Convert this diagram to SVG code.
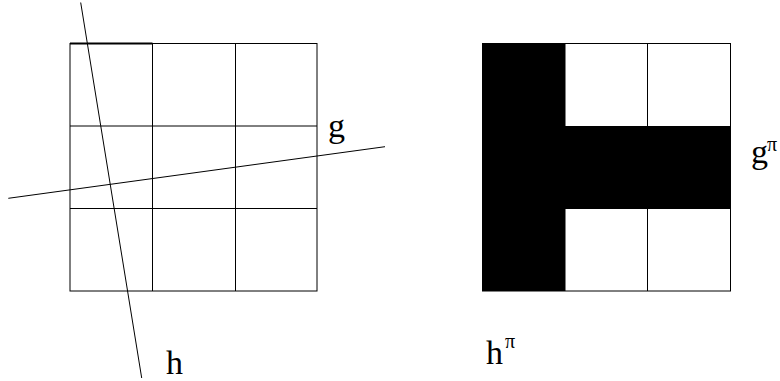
<svg xmlns="http://www.w3.org/2000/svg" width="780" height="381" viewBox="0 0 780 381">
<style>
.ln{stroke:#000;stroke-width:1;fill:none}
.lbl{font-family:"Liberation Serif","Times New Roman",serif;font-size:34px;fill:#000}
.sup{font-family:"Liberation Serif","Times New Roman",serif;font-size:20px;fill:#000}
</style>
<rect width="780" height="381" fill="#fff"/>
<g id="left-grid">
<rect class="ln" x="70" y="43.5" width="247" height="247.5"/>
<line class="ln" x1="152.5" y1="43.5" x2="152.5" y2="291"/>
<line class="ln" x1="235.5" y1="43.5" x2="235.5" y2="291"/>
<line class="ln" x1="70" y1="126" x2="317" y2="126"/>
<line class="ln" x1="70" y1="208.5" x2="317" y2="208.5"/>
<line x1="70" y1="43.5" x2="152.5" y2="43.5" stroke="#000" stroke-width="2"/>
</g>
<g id="connectors">
<line id="h-line" class="ln" x1="80.7" y1="2.5" x2="141.7" y2="378"/>
<line id="g-line" class="ln" x1="8.3" y1="198.3" x2="385" y2="146.7"/>
</g>
<g id="label-g"><text class="lbl" x="328" y="137">g</text></g>
<g id="label-h"><text class="lbl" x="166" y="374">h</text></g>
<g id="right-grid">
<rect x="482.5" y="43.5" width="83" height="247.5" fill="#000"/>
<rect x="565" y="126" width="165.5" height="83" fill="#000"/>
<rect class="ln" x="482.5" y="43.5" width="248" height="247.5"/>
<line class="ln" x1="647.5" y1="43.5" x2="647.5" y2="126"/>
<line class="ln" x1="647.5" y1="209" x2="647.5" y2="291"/>
</g>
<g id="label-gpi"><text class="lbl" x="751" y="163" font-size="27">g</text><text class="sup" x="767" y="151" font-size="18">π</text></g>
<g id="label-hpi"><text class="lbl" x="486" y="364">h</text><text class="sup" x="505" y="348" font-size="18">π</text></g>
</svg>
